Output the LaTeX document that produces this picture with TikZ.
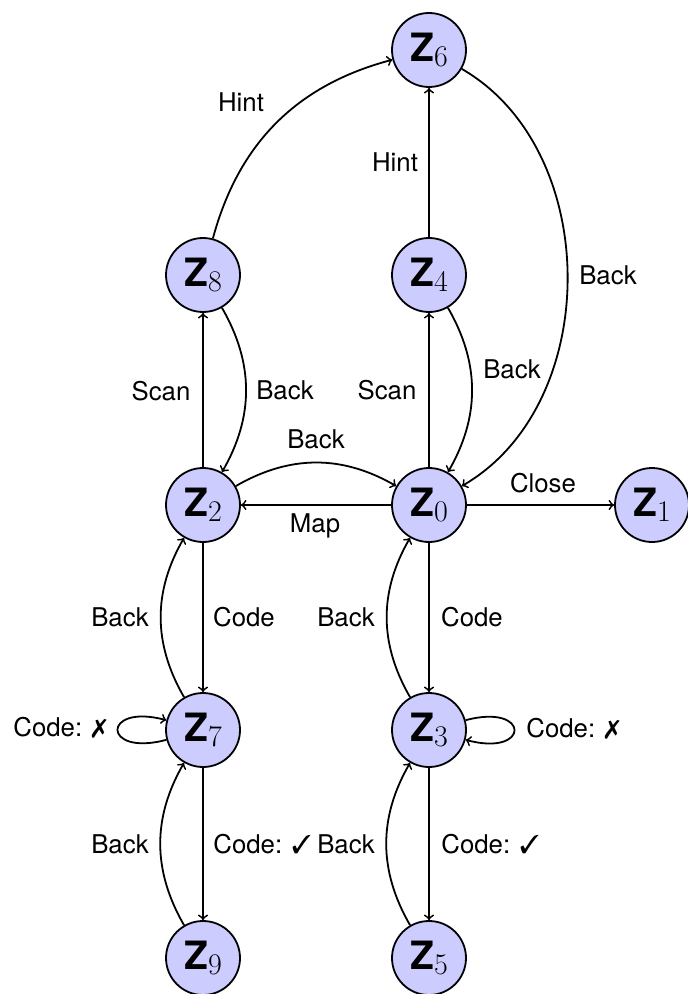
\documentclass[tikz,border=0pt]{standalone}
\usepackage{fontspec}
\setmainfont{TeX Gyre Heros}
\usepackage{pifont}
\newcommand\zlab[1]{{\fontsize{19.5}{20}\selectfont\bfseries Z}\raisebox{-2.5pt}{\fontsize{15}{16}\fontfamily{lmr}\selectfont #1}}
\begin{document}
\begin{tikzpicture}[x=0.5pt,y=-0.5pt,
  state/.style={circle,draw,line width=0.9pt,fill=blue!20,minimum size=37pt,inner sep=0pt},
  lbl/.style={font=\fontsize{12.9}{15}\selectfont,inner sep=0pt,anchor=base},
  conn/.style={->,line width=0.9pt}]
\useasboundingbox (0,0) rectangle (688,994);
\node[state] (z6) at (429,50) {\zlab{6}};
\node[state] (z8) at (203,275) {\zlab{8}};
\node[state] (z4) at (429,275) {\zlab{4}};
\node[state] (z2) at (203,505) {\zlab{2}};
\node[state] (z0) at (429,505) {\zlab{0}};
\node[state] (z1) at (652,505) {\zlab{1}};
\node[state] (z7) at (203,730) {\zlab{7}};
\node[state] (z3) at (429,730) {\zlab{3}};
\node[state] (z9) at (203,958) {\zlab{9}};
\node[state] (z5) at (429,958) {\zlab{5}};

\draw[conn] (z2) -- (z8);
\draw[conn] (z8) to[bend left=30] (z2);
\draw[conn] (z0) -- (z4);
\draw[conn] (z4) to[bend left=30] (z0);
\draw[conn] (z4) -- (z6);
\draw[conn] (z8) to[bend left=30] (z6);
\draw[conn] (z6) to[bend left=60] (z0);
\draw[conn] (z2) to[bend left=30] (z0);
\draw[conn] (z0) -- (z2);
\draw[conn] (z0) -- (z1);
\draw[conn] (z2) -- (z7);
\draw[conn] (z7) to[bend left=30] (z2);
\draw[conn] (z0) -- (z3);
\draw[conn] (z3) to[bend left=30] (z0);
\draw[conn] (z7) to[loop left,looseness=8.8] (z7);
\draw[conn] (z3) to[loop right,looseness=8.8] (z3);
\draw[conn] (z7) -- (z9);
\draw[conn] (z9) to[bend left=30] (z7);
\draw[conn] (z3) -- (z5);
\draw[conn] (z5) to[bend left=30] (z3);

\node[lbl] (l1) at (241,112) {Hint};
\node[lbl] (l2) at (395,172) {Hint};
\node[lbl] (l3) at (608,285) {Back};
\node[lbl] (l4) at (161,400) {Scan};
\node[lbl] (l5) at (285,399) {Back};
\node[lbl] (l6) at (387,399) {Scan};
\node[lbl] (l7) at (512,378) {Back};
\node[lbl] (l8) at (316,448) {Back};
\node[lbl] (l9) at (315,532) {Map};
\node[lbl] (l10) at (543,492) {Close};
\node[lbl] (l11) at (120,626) {Back};
\node[lbl] (l12) at (244,626) {Code};
\node[lbl] (l13) at (346,626) {Back};
\node[lbl] (l14) at (472,626) {Code};
\node[lbl,anchor=base west] (l15) at (13,736) {Code: \ding{55}};
\node[lbl,anchor=base west] (l16) at (526,737) {Code: \ding{55}};
\node[lbl] (l17) at (120,853) {Back};
\node[lbl,anchor=base west] (l18) at (213,853) {Code: \ding{51}};
\node[lbl] (l19) at (346,853) {Back};
\node[lbl,anchor=base west] (l20) at (441,853) {Code: \ding{51}};
\end{tikzpicture}
\end{document}
